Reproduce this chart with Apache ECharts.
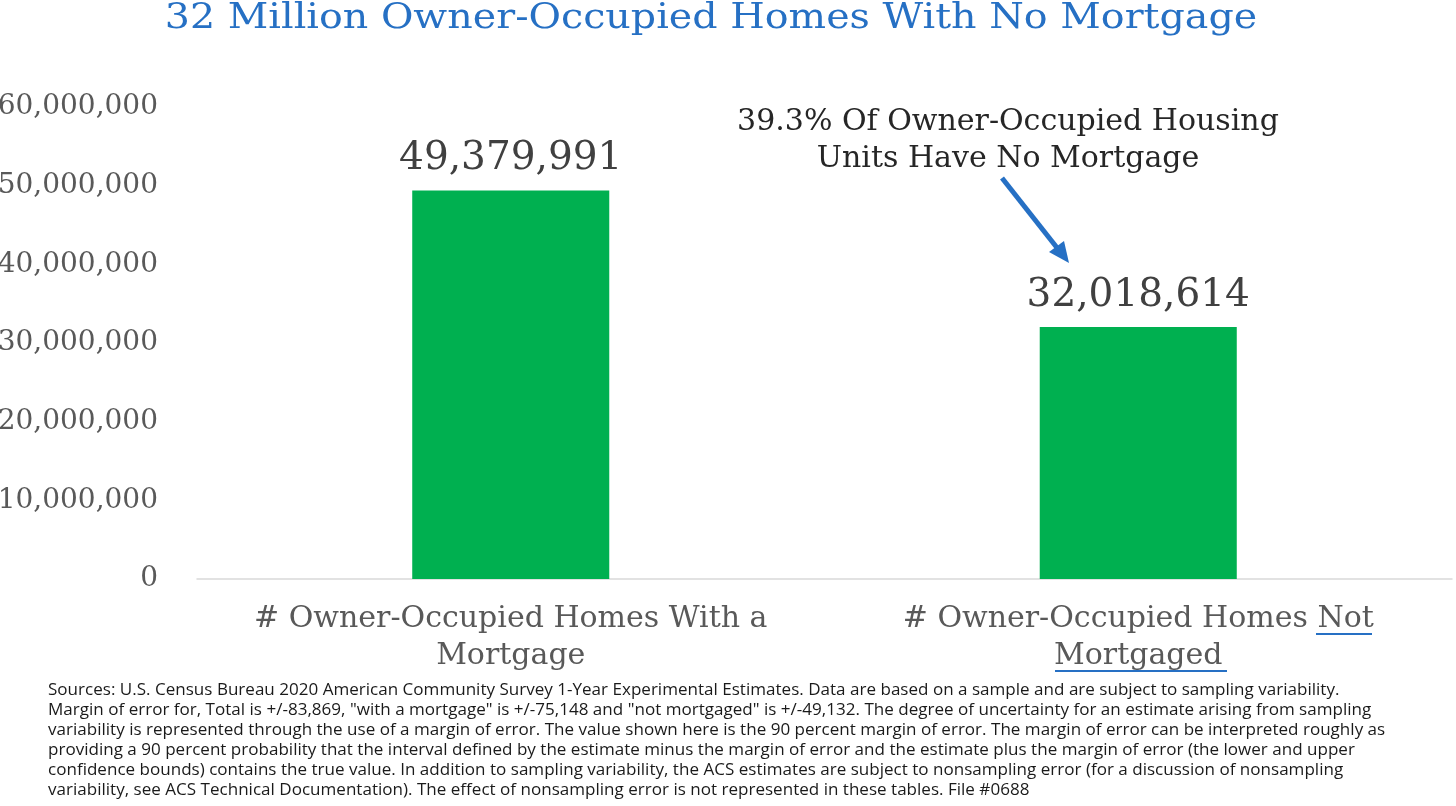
<!DOCTYPE html>
<html><head><meta charset="utf-8">
<script src="https://cdn.jsdelivr.net/npm/echarts@6/dist/echarts.min.js"></script>
<style>html,body{margin:0;padding:0;background:#fff}#c{width:1456px;height:806px}</style>
</head><body><div id="c"></div>
<script>
const categories = ['# Owner-Occupied Homes With a\nMortgage', '# Owner-Occupied Homes Not\nMortgaged'];
const values = [49379991, 32018614];
const yTicks = [0, 10000000, 20000000, 30000000, 40000000, 50000000, 60000000];
const titleText = '32 Million Owner-Occupied Homes With No Mortgage';
const annotationText = '39.3% Of Owner-Occupied Housing\nUnits Have No Mortgage';
const footnoteLines = [
 'Sources: U.S. Census Bureau 2020 American Community Survey 1-Year Experimental Estimates. Data are based on a sample and are subject to sampling variability.',
 'Margin of error for, Total is +/-83,869, "with a mortgage" is +/-75,148 and "not mortgaged" is +/-49,132. The degree of uncertainty for an estimate arising from sampling',
 'variability is represented through the use of a margin of error. The value shown here is the 90 percent margin of error. The margin of error can be interpreted roughly as',
 'providing a 90 percent probability that the interval defined by the estimate minus the margin of error and the estimate plus the margin of error (the lower and upper',
 'confidence bounds) contains the true value. In addition to sampling variability, the ACS estimates are subject to nonsampling error (for a discussion of nonsampling',
 'variability, see ACS Technical Documentation). The effect of nonsampling error is not represented in these tables. File #0688'
];

const fmt = v => v.toLocaleString('en-US');
const chart = echarts.init(document.getElementById('c'));
const serif = 'DejaVu Serif';
const blue = '#2670C4';
const footY = [691, 711, 731, 751, 771, 791];
const graphics = [];
footnoteLines.forEach((t, i) => {
  graphics.push({type: 'text', x: 48, y: footY[i], scaleX: 1.1, originX: 0, originY: 0, style: {text: t, font: '15.5px "Open Sans"', fill: '#1a1a1a', verticalAlign: 'middle'}});
});
graphics.push({type: 'text', x: 711, y: 19, scaleX: 1.1, originX: 0, originY: 0, style: {text: titleText, font: '36px "DejaVu Serif"', fill: blue, align: 'center', verticalAlign: 'middle'}});
graphics.push({type: 'text', x: 1008, y: 104, style: {text: annotationText, font: '30px "DejaVu Serif"', fill: '#262626', align: 'center', lineHeight: 37}});
graphics.push({type: 'line', shape: {x1: 1002, y1: 178, x2: 1058, y2: 249}, style: {stroke: blue, lineWidth: 5}});
graphics.push({type: 'polygon', shape: {points: [[1069, 263], [1049, 252], [1064, 241]]}, style: {fill: blue}});
graphics.push({type: 'line', shape: {x1: 1316, y1: 634, x2: 1372, y2: 634}, style: {stroke: blue, lineWidth: 2}});
graphics.push({type: 'line', shape: {x1: 1055, y1: 671, x2: 1227, y2: 671}, style: {stroke: blue, lineWidth: 2}});

chart.setOption({
  animation: false,
  backgroundColor: '#fff',
  grid: {left: 197, right: 4, top: 107, bottom: 227, containLabel: false, outerBoundsMode: 'none'},
  xAxis: {
    type: 'category', data: categories,
    axisLine: {lineStyle: {color: '#d9d9d9', width: 1.5}},
    axisTick: {show: false},
    axisLabel: {fontFamily: serif, fontSize: 30, color: '#595959', lineHeight: 37, margin: 22, interval: 0}
  },
  yAxis: {
    type: 'value', min: yTicks[0], max: yTicks[yTicks.length - 1], interval: yTicks[1] - yTicks[0],
    splitLine: {show: false}, axisLine: {show: false}, axisTick: {show: false},
    axisLabel: {fontFamily: serif, fontSize: 28, color: '#595959', margin: 39, formatter: v => fmt(v)}
  },
  series: [{
    type: 'bar', data: values, barWidth: '31.4%',
    itemStyle: {color: '#00B050'},
    label: {show: true, position: 'top', distance: 12, formatter: p => fmt(p.value), fontFamily: serif, fontSize: 39, color: '#404040'}
  }],
  graphic: graphics
});
</script></body></html>
